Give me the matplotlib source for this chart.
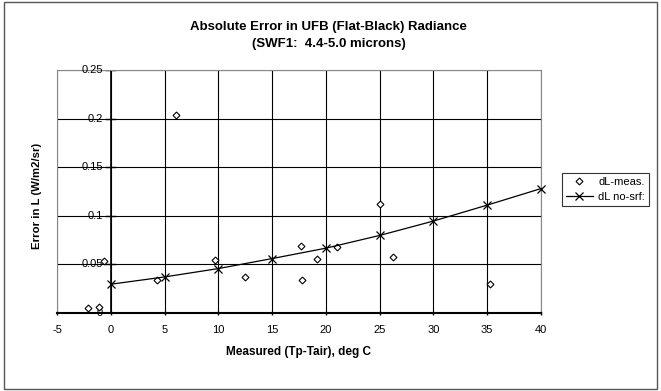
import matplotlib.pyplot as plt
from matplotlib.patches import Rectangle

plt.rcParams['font.family'] = ['Liberation Sans', 'DejaVu Sans']

# measured error points
meas_x = [-2.1, -1.1, -0.6, 4.3, 6.1, 9.7, 12.5, 17.65, 17.8, 19.2, 21.0, 25.05, 26.2, 35.3]
meas_y = [0.0055, 0.0065, 0.053, 0.0337, 0.2036, 0.0543, 0.037, 0.0688, 0.0337, 0.056, 0.0677, 0.1124, 0.0578, 0.0296]

# model curve (no surface reflection)
nosrf_x = [0, 5, 10, 15, 20, 25, 30, 35, 40]
nosrf_y = [0.0296, 0.0371, 0.0457, 0.056, 0.0667, 0.0798, 0.0946, 0.111, 0.128]

xticks = [-5, 0, 5, 10, 15, 20, 25, 30, 35, 40]
xtick_labels = ['-5', '0', '5', '10', '15', '20', '25', '30', '35', '40']
yticks = [0, 0.05, 0.1, 0.15, 0.2, 0.25]
ytick_labels = ['0', '0.05', '0.1', '0.15', '0.2', '0.25']

fig = plt.figure(figsize=(6.61, 3.91), dpi=100)
fig.patches.append(Rectangle((0.006, 0.006), 0.988, 0.988, transform=fig.transFigure,
                             fill=False, edgecolor='#555555', linewidth=1.0))

ax = fig.add_axes([57 / 661, 1 - 313 / 391, (541 - 57) / 661, (313 - 70) / 391])
ax.set_xlim(-5, 40)
ax.set_ylim(0, 0.25)

ax.set_xticks(xticks)
ax.set_xticklabels(xtick_labels)
ax.set_yticks(yticks)
ax.grid(True, color='black', linewidth=0.8)
ax.set_axisbelow(True)

for s in ['top', 'right', 'left']:
    ax.spines[s].set_color('#888888')
    ax.spines[s].set_linewidth(0.8)
ax.spines['bottom'].set_linewidth(1.5)

# y axis drawn at x = 0
ax.axvline(0, color='black', linewidth=1.2, zorder=1)
ax.tick_params(axis='y', length=0, labelleft=False)
for yv, lab in zip(yticks, ytick_labels):
    ax.plot([-0.4, 0.4], [yv, yv], color='black', linewidth=1.0, zorder=2)
    ax.text(-0.75, yv, lab, ha='right', va='center', fontsize=8, zorder=3)

ax.tick_params(axis='x', length=3, width=1.0, direction='inout', labelsize=8, pad=7)

ax.plot(meas_x, meas_y, linestyle='none', marker='D', markersize=3.5,
        markerfacecolor='white', markeredgecolor='black', markeredgewidth=0.8,
        label='dL-meas.', zorder=4, clip_on=False)
ax.plot(nosrf_x, nosrf_y, color='black', linewidth=0.9, marker='x', markersize=6,
        markeredgewidth=0.9, label='dL no-srf:', zorder=4, clip_on=False)

fig.text(0.497, 1 - 27 / 391, 'Absolute Error in UFB (Flat-Black) Radiance',
         ha='center', va='center', fontsize=9.5, fontweight='bold')
fig.text(0.497, 1 - 44 / 391, '(SWF1:  4.4-5.0 microns)',
         ha='center', va='center', fontsize=9.5, fontweight='bold')
ax.set_xlabel('Measured (Tp-Tair), deg C', fontsize=8.5, fontweight='bold', labelpad=8)
fig.text(37 / 661, 1 - 196 / 391, 'Error in L (W/m2/sr)', rotation=90,
         ha='center', va='center', fontsize=8.2, fontweight='bold')

leg = fig.legend(loc='upper left', bbox_to_anchor=(562 / 661, 1 - 173 / 391),
                 fontsize=8, frameon=True, fancybox=False, edgecolor='black',
                 handlelength=2.4, borderpad=0.35, labelspacing=0.45, handletextpad=0.5,
                 borderaxespad=0)
leg.get_frame().set_linewidth(0.8)

fig.savefig('out.png', dpi=100)
